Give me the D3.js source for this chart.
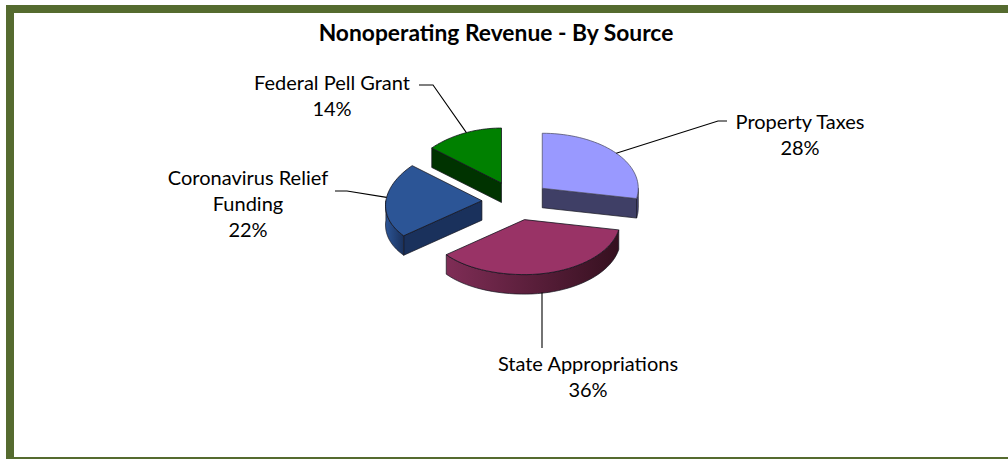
<!DOCTYPE html>
<html><head><meta charset="utf-8">
<script src="https://cdn.jsdelivr.net/npm/d3@7"></script>
<style>html,body{margin:0;padding:0;background:#fff}svg{display:block}text{font-family:Lato,Carlito,sans-serif;fill:#000}</style>
</head><body><svg id="c" width="1008" height="459"></svg>
<script>
const categories = ["Property Taxes","State Appropriations","Coronavirus Relief Funding","Federal Pell Grant"];
const shares = [28,36,22,14];
const title = "Nonoperating Revenue - By Source";
const topColors = ["#9999ff","#993366","#2c5596","#008000"];
const sideColors = ["#3f3f66","#3d1329","#1a315c","#003300"];
const rimLeftColors = ["#5c5c99","#7f2d56","#2c5596","#003300"];
const rimRightColors = ["#3f3f66","#35101f","#1a315c","#003300"];

const W=1008,H=459;
const svg=d3.select("#c");
const defs=svg.append("defs");
// frame
const frame="#556b2f";
svg.append("rect").attr("x",6).attr("y",5).attr("width",W-6).attr("height",8).attr("fill",frame);
svg.append("rect").attr("x",6).attr("y",5).attr("width",8).attr("height",H-5).attr("fill",frame);
svg.append("rect").attr("x",6).attr("y",457).attr("width",W-6).attr("height",2).attr("fill",frame);
svg.append("text").attr("x",496).attr("y",40.5).attr("text-anchor","middle")
  .attr("font-size",22.8).attr("font-weight",700).text(title);

const cx=516,cy=200.7,rx=96,ry=55,depth=19.5,explode=0.355,persp=0.09;
const pie=d3.pie().sort(null).value(d=>d)(shares);
const sx=d3.scaleLinear().domain([-1,1]).range([cx-rx,cx+rx]);
const sy=d3.scaleLinear().domain([-1,1]).range([cy-ry,cy+ry]);
pie.forEach(p=>{p.mid=(p.startAngle+p.endAngle)/2;
  p.ox=Math.sin(p.mid)*explode;p.oy=-Math.cos(p.mid)*explode;});
// point on a slice's own disc -> page position; the left side narrows toward the back
function proj(p,u,v,dz=0){
  return [sx(p.ox+u*(u<0?1+persp*v:1)),sy(p.oy+v)+dz];
}
const line=d3.line();
const rim=(p,a,dz=0)=>proj(p,Math.sin(a),-Math.cos(a),dz);
const apex=(p,dz=0)=>proj(p,0,0,dz);
function samples(a0,a1){return d3.range(0,41).map(i=>a0+(a1-a0)*i/40);}
const order=[3,2,0,1];
const edge="#14141e";
order.forEach(i=>{
  const p=pie[i],g=svg.append("g");
  const wall=a=>{
    const A=apex(p),B=rim(p,a);
    g.append("path").attr("d",line([A,B,[B[0],B[1]+depth],[A[0],A[1]+depth]])+"Z")
     .attr("fill",sideColors[i]).attr("stroke",edge).attr("stroke-width",.7).attr("stroke-linejoin","round");
  };
  if(Math.sin(p.startAngle)<-1e-6) wall(p.startAngle);
  if(Math.sin(p.endAngle)>1e-6) wall(p.endAngle);
  // outer wall on the front half
  const a0=Math.max(p.startAngle,Math.PI/2),a1=Math.min(p.endAngle,1.5*Math.PI);
  if(a1>a0){
    const s=samples(a0,a1);
    const t=s.map(a=>rim(p,a)),b=s.map(a=>rim(p,a,depth)).reverse();
    const gid="g"+i,xs=t.map(d=>d[0]);
    const lg=defs.append("linearGradient").attr("id",gid).attr("gradientUnits","userSpaceOnUse")
      .attr("x1",d3.min(xs)).attr("x2",d3.max(xs)).attr("y1",0).attr("y2",0);
    lg.append("stop").attr("offset",0).attr("stop-color",rimLeftColors[i]);
    lg.append("stop").attr("offset",1).attr("stop-color",rimRightColors[i]);
    g.append("path").attr("d",line(t.concat(b))+"Z").attr("fill",`url(#${gid})`)
      .attr("stroke",edge).attr("stroke-width",.7).attr("stroke-linejoin","round");
  }
  const pts=[apex(p)].concat(samples(p.startAngle,p.endAngle).map(a=>rim(p,a)));
  g.append("path").attr("d",line(pts)+"Z").attr("fill",topColors[i])
   .attr("stroke",i==0?"#55556f":edge).attr("stroke-width",.8).attr("stroke-linejoin","round");
});

// leaders and labels
const labelSpec=[
 {lines:[categories[0],shares[0]+"%"],x:800,y:129,elbow:[[718,121],[727,121]],dz:0,nudge:0},
 {lines:["State Appropriations",shares[1]+"%"],x:588,y:371,elbow:[[542,348]],dz:depth,fromX:542,nudge:0},
 {lines:["Coronavirus Relief","Funding",shares[2]+"%"],x:248,y:185,elbow:[[347,191],[335,191]],dz:0,nudge:0.06},
 {lines:[categories[3],shares[3]+"%"],x:332,y:90,elbow:[[433,85],[419,85]],dz:0,nudge:0.03}
];
labelSpec.forEach((l,i)=>{
  const p=pie[i];
  let s=rim(p,p.mid+l.nudge,l.dz);
  if(l.fromX) s=[l.fromX,s[1]];
  svg.append("path").attr("d",line([s,...l.elbow])).attr("fill","none").attr("stroke","#000").attr("stroke-width",1.1);
  l.lines.forEach((t,k)=>svg.append("text").attr("x",l.x).attr("y",l.y+k*26).attr("text-anchor","middle")
    .attr("font-size",20).text(t));
});
</script></body></html>
